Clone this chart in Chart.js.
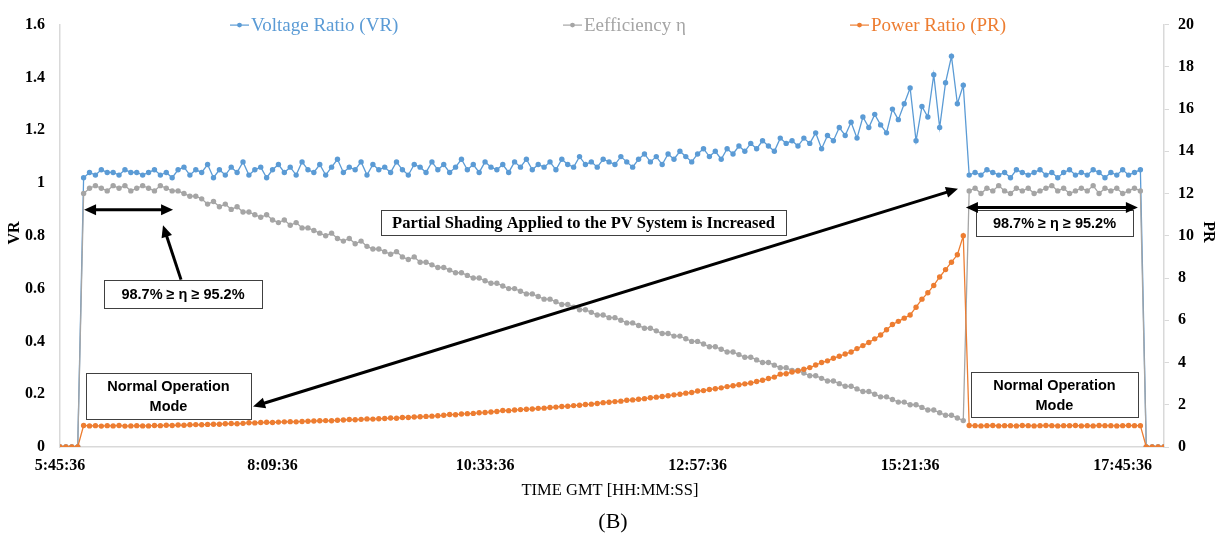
<!DOCTYPE html>
<html>
<head>
<meta charset="utf-8">
<script src="https://cdn.jsdelivr.net/npm/chart.js@4/dist/chart.umd.min.js"></script>
<style>
  body { margin: 0; background: #fff; }
  canvas { display: block; }
</style>
</head>
<body>
<canvas id="chart" width="1225" height="535"></canvas>
<script>
// time grid: minutes of the day, one sample every 4 minutes from 5:45:36
const startMinute = 345.6;
const stepMinutes = 4;
const tickMinutes = [345.6, 489.6, 633.6, 777.6, 921.6, 1065.6];

// Voltage Ratio (left axis)
const voltageRatio = [
  0, 0, 0, 0,
  1.02, 1.04, 1.03, 1.05, 1.04, 1.04, 1.03, 1.05, 1.04, 1.04,
  1.03, 1.04, 1.05, 1.03, 1.04, 1.02, 1.05, 1.06, 1.03, 1.05,
  1.04, 1.07, 1.02, 1.05, 1.03, 1.06, 1.04, 1.08, 1.03, 1.05,
  1.06, 1.02, 1.05, 1.07, 1.04, 1.06, 1.03, 1.08, 1.05, 1.04,
  1.07, 1.03, 1.06, 1.09, 1.04, 1.06, 1.05, 1.08, 1.03, 1.07,
  1.05, 1.06, 1.04, 1.08, 1.05, 1.03, 1.07, 1.06, 1.04, 1.08,
  1.05, 1.07, 1.04, 1.06, 1.09, 1.05, 1.07, 1.04, 1.08, 1.06,
  1.05, 1.07, 1.04, 1.08, 1.06, 1.09, 1.05, 1.07, 1.06, 1.08,
  1.05, 1.09, 1.07, 1.06, 1.10, 1.07, 1.08, 1.06, 1.09, 1.08,
  1.07, 1.10, 1.08, 1.06, 1.09, 1.11, 1.08, 1.10, 1.07, 1.11,
  1.09, 1.12, 1.10, 1.08, 1.11, 1.13, 1.10, 1.12, 1.09, 1.13,
  1.11, 1.14, 1.12, 1.15, 1.13, 1.16, 1.14, 1.12, 1.17, 1.15,
  1.16, 1.14, 1.17, 1.15, 1.19, 1.13, 1.18, 1.16, 1.21, 1.18,
  1.23, 1.17, 1.25, 1.21, 1.26, 1.22, 1.19, 1.28, 1.24, 1.30,
  1.36, 1.16, 1.29, 1.25, 1.41, 1.21, 1.38, 1.48, 1.30, 1.37,
  1.03, 1.04, 1.03, 1.05, 1.04, 1.03, 1.04, 1.02, 1.05, 1.04,
  1.03, 1.04, 1.05, 1.03, 1.04, 1.02, 1.04, 1.05, 1.03, 1.04,
  1.03, 1.05, 1.04, 1.02, 1.04, 1.03, 1.05, 1.03, 1.04, 1.05,
  0, 0, 0, 0
];

// Efficiency (left axis, per unit)
const efficiency = [
  0, 0, 0, 0,
  0.96, 0.98, 0.99, 0.98, 0.97, 0.99, 0.98, 0.99, 0.97, 0.98,
  0.99, 0.98, 0.97, 0.99, 0.98, 0.97, 0.97, 0.96, 0.95, 0.95,
  0.94, 0.92, 0.93, 0.91, 0.92, 0.90, 0.91, 0.89, 0.89, 0.88,
  0.87, 0.88, 0.86, 0.85, 0.86, 0.84, 0.85, 0.83, 0.83, 0.82,
  0.81, 0.80, 0.81, 0.79, 0.78, 0.79, 0.77, 0.78, 0.76, 0.75,
  0.75, 0.74, 0.73, 0.74, 0.72, 0.71, 0.72, 0.70, 0.70, 0.69,
  0.68, 0.68, 0.67, 0.66, 0.66, 0.65, 0.64, 0.64, 0.63, 0.62,
  0.62, 0.61, 0.60, 0.60, 0.59, 0.58, 0.58, 0.57, 0.56, 0.56,
  0.55, 0.54, 0.54, 0.53, 0.52, 0.52, 0.51, 0.50, 0.50, 0.49,
  0.49, 0.48, 0.47, 0.47, 0.46, 0.45, 0.45, 0.44, 0.43, 0.43,
  0.42, 0.42, 0.41, 0.40, 0.40, 0.39, 0.38, 0.38, 0.37, 0.36,
  0.36, 0.35, 0.34, 0.34, 0.33, 0.32, 0.32, 0.31, 0.30, 0.30,
  0.29, 0.29, 0.28, 0.27, 0.27, 0.26, 0.25, 0.25, 0.24, 0.23,
  0.23, 0.22, 0.21, 0.21, 0.20, 0.19, 0.19, 0.18, 0.17, 0.17,
  0.16, 0.16, 0.15, 0.14, 0.14, 0.13, 0.12, 0.12, 0.11, 0.10,
  0.97, 0.98, 0.96, 0.98, 0.97, 0.99, 0.97, 0.96, 0.98, 0.97,
  0.98, 0.96, 0.97, 0.98, 0.99, 0.97, 0.98, 0.96, 0.97, 0.98,
  0.97, 0.99, 0.96, 0.98, 0.97, 0.98, 0.96, 0.97, 0.98, 0.97,
  0, 0, 0, 0
];

// Power Ratio (right axis)
const powerRatio = [
  0, 0, 0, 0,
  1.02, 1.00, 1.01, 0.99, 1.01, 1.00, 1.02, 0.99, 1.00, 1.01,
  1.00, 1.00, 1.02, 1.01, 1.03, 1.02, 1.04, 1.03, 1.05, 1.06,
  1.05, 1.07, 1.08, 1.08, 1.10, 1.11, 1.10, 1.12, 1.15, 1.14,
  1.16, 1.17, 1.16, 1.18, 1.19, 1.20, 1.19, 1.21, 1.22, 1.23,
  1.24, 1.25, 1.24, 1.27, 1.28, 1.30, 1.29, 1.31, 1.33, 1.32,
  1.34, 1.35, 1.37, 1.36, 1.40, 1.40, 1.42, 1.43, 1.45, 1.46,
  1.48, 1.50, 1.54, 1.53, 1.56, 1.58, 1.59, 1.62, 1.63, 1.66,
  1.68, 1.73, 1.72, 1.75, 1.77, 1.79, 1.80, 1.83, 1.84, 1.87,
  1.89, 1.92, 1.93, 1.96, 1.98, 2.01, 2.03, 2.06, 2.10, 2.12,
  2.15, 2.17, 2.21, 2.23, 2.26, 2.29, 2.33, 2.36, 2.39, 2.43,
  2.47, 2.50, 2.55, 2.58, 2.65, 2.67, 2.72, 2.76, 2.80, 2.86,
  2.90, 2.95, 2.99, 3.03, 3.10, 3.16, 3.24, 3.31, 3.45, 3.47,
  3.55, 3.60, 3.68, 3.76, 3.88, 4.00, 4.08, 4.20, 4.30, 4.40,
  4.50, 4.66, 4.80, 4.95, 5.12, 5.30, 5.55, 5.80, 5.95, 6.10,
  6.25, 6.62, 7.00, 7.30, 7.65, 8.05, 8.40, 8.75, 9.10, 10.00,
  1.02, 1.01, 1.00, 1.01, 1.02, 1.00, 1.01, 1.01, 1.00, 1.02,
  1.01, 1.00, 1.01, 1.02, 1.01, 1.00, 1.01, 1.01, 1.02, 1.00,
  1.01, 1.00, 1.02, 1.01, 1.01, 1.00, 1.01, 1.02, 1.01, 1.01,
  0, 0, 0, 0
];

const timeMinutes = voltageRatio.map((_, i) => startMinute + i * stepMinutes);

const BLUE = "#5b9bd5", GREY = "#a5a5a5", ORANGE = "#ed7d31";
const SERIF = "'Liberation Serif', 'Times New Roman', serif";
const SANS = "'Liberation Sans', Arial, sans-serif";

function fmtTime(m) {
    const s = Math.round(m * 60);
    const h = Math.floor(s / 3600);
    const mm = Math.floor((s % 3600) / 60);
    const ss = s % 60;
    return h + ":" + String(mm).padStart(2, "0") + ":" + String(ss).padStart(2, "0");
}

function toPoints(values) {
    return values.map((v, i) => ({ x: timeMinutes[i], y: v }));
}

function series(label, values, color, axis, order) {
    return {
        label: label,
        data: toPoints(values),
        yAxisID: axis,
        borderColor: color,
        backgroundColor: color,
        borderWidth: 1.3,
        pointRadius: 2.7,
        pointBorderWidth: 0,
        pointBackgroundColor: color,
        pointHoverRadius: 0,
        tension: 0,
        order: order
    };
}

// annotations in data units (minutes, VR scale)
const boxes = [
    { x1: 563.1, x2: 837.5, y1: 0.896, y2: 0.802, lines: ["Partial Shading Applied to the PV System is Increased"], font: "bold 16.5px " + SERIF },
    { x1: 375.4, x2: 482.5, y1: 0.631, y2: 0.526, lines: ["98.7% \u2265 \u03b7 \u2265 95.2%"], font: "bold 14.5px " + SANS },
    { x1: 966.2, x2: 1072.6, y1: 0.896, y2: 0.799, lines: ["98.7% \u2265 \u03b7 \u2265 95.2%"], font: "bold 14.5px " + SANS },
    { x1: 363.2, x2: 475.0, y1: 0.280, y2: 0.104, lines: ["Normal Operation", "Mode"], font: "bold 14.5px " + SANS },
    { x1: 962.8, x2: 1075.9, y1: 0.284, y2: 0.112, lines: ["Normal Operation", "Mode"], font: "bold 14.5px " + SANS }
];

const arrows = [
    { x1: 361.9, y1: 0.899, x2: 422.2, y2: 0.899, both: true },
    { x1: 427.6, y1: 0.634, x2: 415.4, y2: 0.840, both: false },
    { x1: 959.4, y1: 0.907, x2: 1075.9, y2: 0.907, both: true },
    { x1: 476.4, y1: 0.153, x2: 954.0, y2: 0.978, both: true }
];

function arrowHead(ctx, fx, fy, tx, ty) {
    const a = Math.atan2(ty - fy, tx - fx);
    const len = 12, half = 5.5;
    ctx.beginPath();
    ctx.moveTo(tx, ty);
    ctx.lineTo(tx - len * Math.cos(a) + half * Math.sin(a), ty - len * Math.sin(a) - half * Math.cos(a));
    ctx.lineTo(tx - len * Math.cos(a) - half * Math.sin(a), ty - len * Math.sin(a) + half * Math.cos(a));
    ctx.closePath();
    ctx.fill();
}

const decorations = {
    id: "decorations",
    afterDraw(chart) {
        const ctx = chart.ctx;
        const xs = chart.scales.x, ys = chart.scales.y;
        const area = chart.chartArea;
        ctx.save();

        // legend
        const legend = [
            { text: "Voltage Ratio (VR)", color: BLUE, x: 230 },
            { text: "Eefficiency \u03b7", color: GREY, x: 563 },
            { text: "Power Ratio (PR)", color: ORANGE, x: 850 }
        ];
        ctx.font = "19px " + SERIF;
        ctx.textBaseline = "middle";
        ctx.textAlign = "left";
        legend.forEach(item => {
            const ly = area.top + 0.5;
            ctx.strokeStyle = item.color;
            ctx.fillStyle = item.color;
            ctx.lineWidth = 1.2;
            ctx.beginPath();
            ctx.moveTo(item.x, ly);
            ctx.lineTo(item.x + 19, ly);
            ctx.stroke();
            ctx.beginPath();
            ctx.arc(item.x + 9.5, ly, 2.4, 0, Math.PI * 2);
            ctx.fill();
            ctx.fillText(item.text, item.x + 21, ly + 1);
        });

        // axis titles
        ctx.fillStyle = "#000";
        ctx.font = "bold 16px " + SERIF;
        ctx.textAlign = "center";
        ctx.save();
        ctx.translate(15, 233);
        ctx.rotate(-Math.PI / 2);
        ctx.fillText("VR", 0, 0);
        ctx.restore();
        ctx.save();
        ctx.translate(1208, 232);
        ctx.rotate(Math.PI / 2);
        ctx.fillText("PR", 0, 0);
        ctx.restore();
        ctx.font = "16.5px " + SERIF;
        ctx.fillText("TIME GMT [HH:MM:SS]", 610, 491);
        ctx.font = "22px " + SERIF;
        ctx.fillText("(B)", 613, 522);

        // annotation boxes
        boxes.forEach(b => {
            const l = xs.getPixelForValue(b.x1), r = xs.getPixelForValue(b.x2);
            const t = ys.getPixelForValue(b.y1), btm = ys.getPixelForValue(b.y2);
            ctx.fillStyle = "#fff";
            ctx.fillRect(l, t, r - l, btm - t);
            ctx.strokeStyle = "#404040";
            ctx.lineWidth = 1;
            ctx.strokeRect(Math.round(l) + 0.5, Math.round(t) + 0.5, Math.round(r - l), Math.round(btm - t));
            ctx.fillStyle = "#000";
            ctx.font = b.font;
            const lh = 20;
            const cy = (t + btm) / 2 - (b.lines.length - 1) * lh / 2;
            b.lines.forEach((line, i) => ctx.fillText(line, (l + r) / 2, cy + i * lh + 1));
        });

        // arrows
        ctx.strokeStyle = "#000";
        ctx.fillStyle = "#000";
        ctx.lineWidth = 3;
        arrows.forEach(a => {
            const x1 = xs.getPixelForValue(a.x1), y1 = ys.getPixelForValue(a.y1);
            const x2 = xs.getPixelForValue(a.x2), y2 = ys.getPixelForValue(a.y2);
            const ang = Math.atan2(y2 - y1, x2 - x1);
            const sx = a.both ? x1 + 8 * Math.cos(ang) : x1, sy = a.both ? y1 + 8 * Math.sin(ang) : y1;
            ctx.beginPath();
            ctx.moveTo(sx, sy);
            ctx.lineTo(x2 - 8 * Math.cos(ang), y2 - 8 * Math.sin(ang));
            ctx.stroke();
            arrowHead(ctx, x1, y1, x2, y2);
            if (a.both) arrowHead(ctx, x2, y2, x1, y1);
        });

        ctx.restore();
    }
};

new Chart(document.getElementById("chart"), {
    type: "line",
    data: {
        datasets: [
            series("Voltage Ratio (VR)", voltageRatio, BLUE, "y", 3),
            series("Eefficiency \u03b7", efficiency, GREY, "y", 2),
            series("Power Ratio (PR)", powerRatio, ORANGE, "y1", 1)
        ]
    },
    options: {
        responsive: false,
        animation: false,
        layout: { padding: { top: 18, left: 0, right: 0, bottom: 0 } },
        plugins: {
            legend: { display: false },
            tooltip: { enabled: false }
        },
        scales: {
            x: {
                type: "linear",
                min: startMinute,
                max: startMinute + (voltageRatio.length - 1) * stepMinutes,
                afterBuildTicks: scale => { scale.ticks = tickMinutes.map(v => ({ value: v })); },
                afterFit: scale => { scale.height = 88; },
                grid: { display: false, drawTicks: false },
                border: { display: true, color: "#d9d9d9", width: 1.5 },
                ticks: {
                    color: "#000",
                    padding: 9,
                    maxRotation: 0,
                    autoSkip: false,
                    font: { family: SERIF, size: 16, weight: "bold" },
                    callback: v => fmtTime(v)
                }
            },
            y: {
                position: "left",
                min: 0,
                max: 1.6,
                afterFit: scale => { scale.width = 60; },
                grid: { display: false, drawTicks: false },
                border: { display: true, color: "#d9d9d9", width: 1.5 },
                ticks: {
                    stepSize: 0.2,
                    color: "#000",
                    padding: 15,
                    font: { family: SERIF, size: 16, weight: "bold" },
                    callback: v => String(+v.toFixed(1))
                }
            },
            y1: {
                position: "right",
                min: 0,
                max: 20,
                afterFit: scale => { scale.width = 61; },
                grid: { display: true, drawOnChartArea: false, drawTicks: true, tickLength: 5, color: "#d9d9d9" },
                border: { display: true, color: "#d9d9d9", width: 1.5 },
                ticks: {
                    stepSize: 2,
                    color: "#000",
                    padding: 9,
                    font: { family: SERIF, size: 16, weight: "bold" }
                }
            }
        }
    },
    plugins: [decorations]
});
</script>
</body>
</html>
